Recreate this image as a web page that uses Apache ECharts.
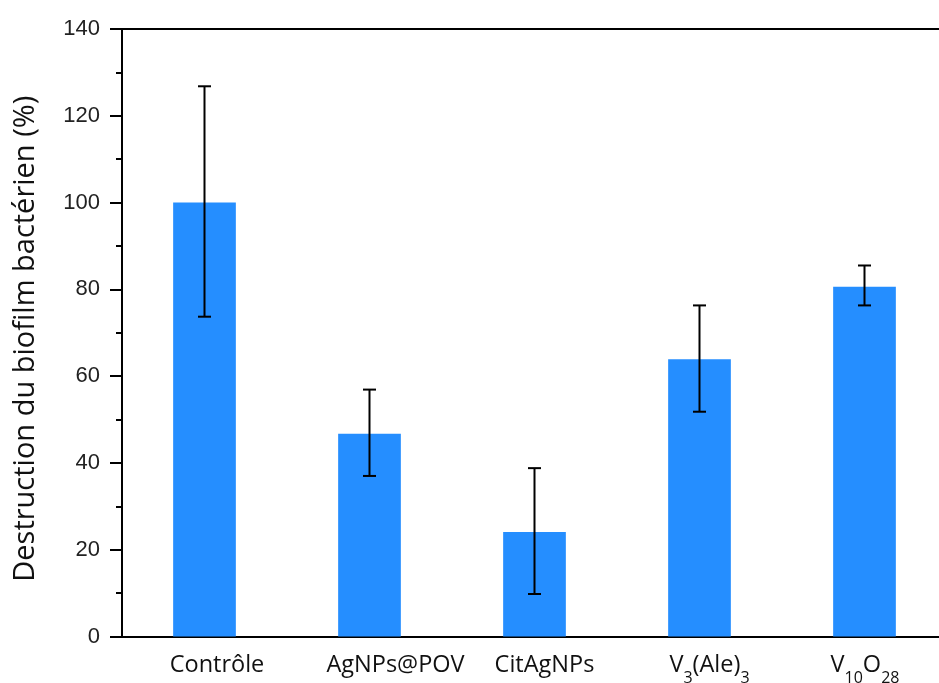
<!DOCTYPE html>
<html>
<head>
<meta charset="utf-8">
<script src="https://cdn.jsdelivr.net/npm/echarts@6/dist/echarts.min.js"></script>
<style>html,body{margin:0;padding:0;background:#fff;overflow:hidden}#c{width:948px;height:683px}</style>
</head>
<body>
<div id="c"></div>
<script>
const categories = ['Contrôle', 'AgNPs@POV', 'CitAgNPs', 'V3(Ale)3', 'V10O28'];
const labelMarkup = ['{n|Contrôle}', '{n|AgNPs@POV}', '{n|CitAgNPs}', '{n|V}{s|3}{n|(Ale)}{s|3}', '{n|V}{s|10}{n|O}{s|28}'];
const labelShift = [25, 52, 20, 20, 1];
const values = [100.0, 46.7, 24.1, 63.9, 80.6];
const errLow = [73.7, 37.0, 9.8, 51.8, 76.3];
const errHigh = [126.8, 56.9, 38.8, 76.3, 85.5];
const yMin = 0, yMax = 140, yStep = 20;
const yTitle = 'Destruction du biofilm bactérien (%)';

const rich = {
  n: { fontFamily: 'Open Sans', fontSize: 23.5, color: '#111', lineHeight: 26, verticalAlign: 'top' },
  s: { fontFamily: 'Open Sans', fontSize: 16, color: '#111', lineHeight: 33, verticalAlign: 'bottom' }
};
labelShift.forEach((w, i) => { rich['p' + i] = { width: w, fontSize: 23.5, lineHeight: 26, verticalAlign: 'top' }; });

const chart = echarts.init(document.getElementById('c'));
chart.setOption({
  animation: false,
  backgroundColor: '#fff',
  grid: { left: 122, top: 29, width: 825, height: 607.5, containLabel: false, outerBoundsMode: 'none' },
  xAxis: [{
    type: 'category',
    data: categories,
    position: 'bottom',
    axisLine: { lineStyle: { color: '#000', width: 2 } },
    axisTick: { show: false },
    axisLabel: {
      interval: 0,
      margin: 17,
      formatter: (v, i) => '{p' + i + '| }' + labelMarkup[i],
      rich: rich
    }
  }, {
    type: 'category',
    data: categories,
    position: 'top',
    axisLine: { lineStyle: { color: '#000', width: 2 } },
    axisTick: { show: false },
    axisLabel: { show: false }
  }],
  yAxis: {
    type: 'value',
    min: yMin, max: yMax, interval: yStep,
    name: yTitle,
    nameLocation: 'middle',
    nameGap: 82,
    nameTextStyle: { fontFamily: 'Open Sans', fontSize: 29, color: '#111', padding: [0, 12, 0, 0] },
    axisLine: { show: true, lineStyle: { color: '#000', width: 2 } },
    axisTick: { show: true, inside: false, length: 12, lineStyle: { color: '#000', width: 2 } },
    minorTick: { show: true, splitNumber: 2, length: 6, lineStyle: { color: '#000', width: 2 } },
    splitLine: { show: false },
    axisLabel: { fontFamily: 'Liberation Sans', fontSize: 22, color: '#222', margin: 22 }
  },
  series: [{
    type: 'bar',
    data: values,
    barWidth: '38%',
    itemStyle: { color: '#258EFF' },
    xAxisIndex: 0
  }, {
    type: 'custom',
    xAxisIndex: 0,
    data: categories.map((c, i) => [i, errLow[i], errHigh[i]]),
    renderItem: function (params, api) {
      const i = api.value(0);
      const lo = api.coord([i, api.value(1)]);
      const hi = api.coord([i, api.value(2)]);
      const hw = 6.5;
      const st = { stroke: '#000', lineWidth: 2 };
      return {
        type: 'group',
        children: [
          { type: 'line', shape: { x1: hi[0], y1: hi[1], x2: lo[0], y2: lo[1] }, style: st },
          { type: 'line', shape: { x1: hi[0] - hw, y1: hi[1], x2: hi[0] + hw, y2: hi[1] }, style: st },
          { type: 'line', shape: { x1: lo[0] - hw, y1: lo[1], x2: lo[0] + hw, y2: lo[1] }, style: st }
        ]
      };
    },
    z: 10
  }]
});
</script>
</body>
</html>
